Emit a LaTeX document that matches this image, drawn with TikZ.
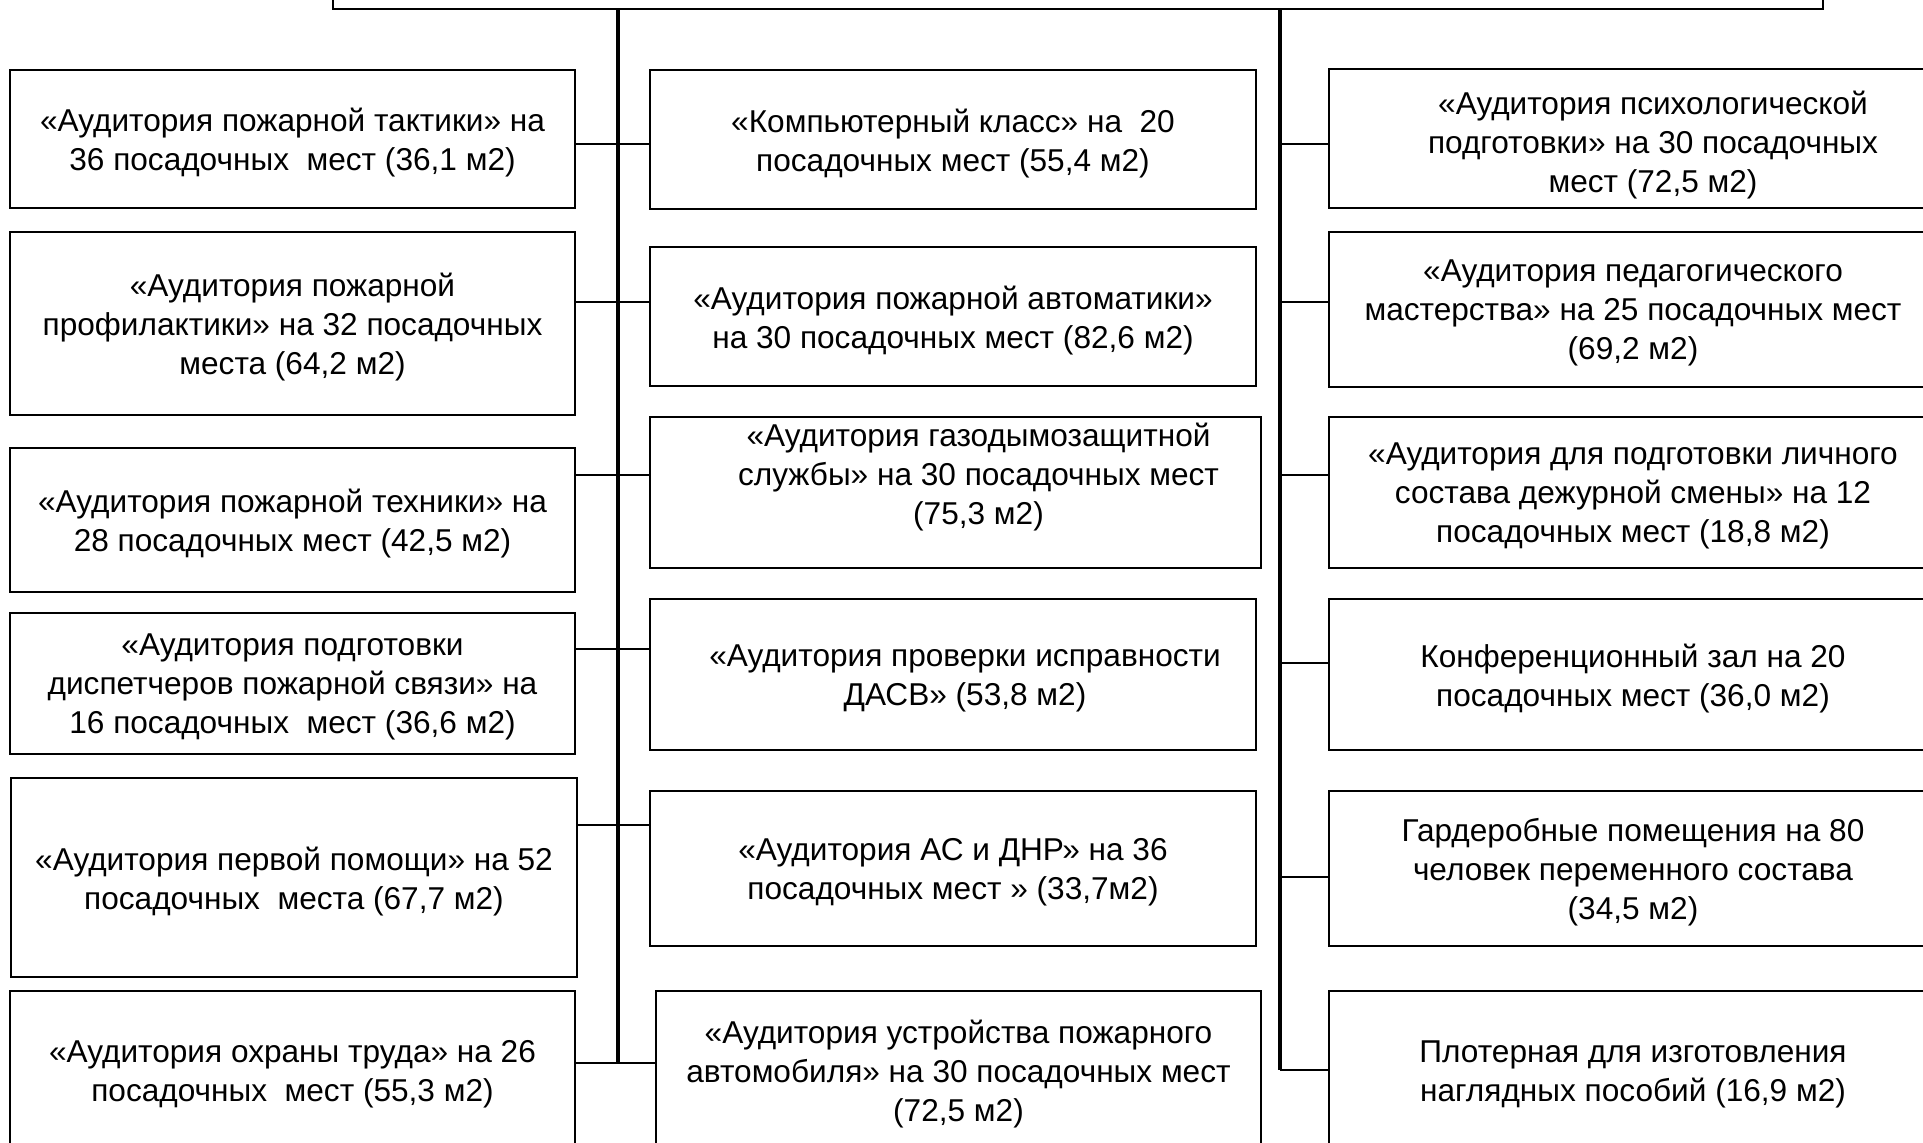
\documentclass[tikz,border=0pt]{standalone}
\usepackage{fontspec}
\setmainfont{Liberation Sans}
\usetikzlibrary{shadows}
\tikzset{
  box/.style={draw=black, line width=1.1pt, fill=white, inner sep=0pt,
    drop shadow={shadow xshift=0.7pt, shadow yshift=-0.7pt, fill=black!45, opacity=1}},
  txt/.style={font=\fontsize{15.8}{19.5}\selectfont, align=center, inner sep=0pt, yshift=-1.8pt},
  conn/.style={line width=1.2pt},
  trunk/.style={line width=1.7pt},
}
\newcommand\bx[8]{%
  \pgfmathsetmacro\bxw{(#4-#2)*0.5}%
  \pgfmathsetmacro\bxh{(#5-#3)*0.5}%
  \node[box, minimum width=\bxw pt, minimum height=\bxh pt,
    label={[txt,xshift=#6,yshift=#7]center:{#8}}] (#1) at ({(#2+#4)/2},{(#3+#5)/2}) {};%
}
\begin{document}
\begin{tikzpicture}[x=0.5pt,y=-0.5pt]
\useasboundingbox (0,0) rectangle (1923,1142);
\clip (0,0) rectangle (1923,1142);
\fill[white] (0,0) rectangle (1923,1142);

\bx{top}{333}{-40}{1823}{9}{0pt}{0pt}{}

\bx{L1}{10}{70}{575}{208}{0pt}{0pt}{«Аудитория пожарной тактики» на\\36 посадочных~ мест (36,1 м2)}
\bx{L2}{10}{232}{575}{415}{0pt}{0pt}{«Аудитория пожарной\\профилактики» на 32 посадочных\\места (64,2 м2)}
\bx{L3}{10}{448}{575}{592}{0pt}{0pt}{«Аудитория пожарной техники» на\\28 посадочных мест (42,5 м2)}
\bx{L4}{10}{613}{575}{754}{0pt}{0pt}{«Аудитория подготовки\\диспетчеров пожарной связи» на\\16 посадочных~ мест (36,6 м2)}
\bx{L5}{11}{778}{577}{977}{0pt}{0pt}{«Аудитория первой помощи» на 52\\посадочных~ места (67,7 м2)}
\bx{L6}{10}{991}{575}{1150}{0pt}{0pt}{«Аудитория охраны труда» на 26\\посадочных~ мест (55,3 м2)}

\bx{M1}{650}{70}{1256}{209}{0pt}{0pt}{«Компьютерный класс» на~ 20\\посадочных мест (55,4 м2)}
\bx{M2}{650}{247}{1256}{386}{0pt}{0pt}{«Аудитория пожарной автоматики»\\на 30 посадочных мест (82,6 м2)}
\bx{M3}{650}{417}{1261}{568}{11.5pt}{9.3pt}{«Аудитория газодымозащитной\\службы» на 30 посадочных мест\\(75,3 м2)}
\bx{M4}{650}{599}{1256}{750}{6pt}{0pt}{«Аудитория проверки исправности\\ДАСВ» (53,8 м2)}
\bx{M5}{650}{791}{1256}{946}{0pt}{0pt}{«Аудитория АС и ДНР» на 36\\посадочных мест » (33,7м2)}
\bx{M6}{656}{991}{1261}{1150}{0pt}{0pt}{«Аудитория устройства пожарного\\автомобиля» на 30 посадочных мест\\(72,5 м2)}

\bx{R1}{1329}{69}{1937}{208}{10pt}{-1.6pt}{«Аудитория психологической\\подготовки» на 30 посадочных\\мест (72,5 м2)}
\bx{R2}{1329}{232}{1937}{387}{0pt}{0pt}{«Аудитория педагогического\\мастерства» на 25 посадочных мест\\(69,2 м2)}
\bx{R3}{1329}{417}{1937}{568}{0pt}{0pt}{«Аудитория для подготовки личного\\состава дежурной смены» на 12\\посадочных мест (18,8 м2)}
\bx{R4}{1329}{599}{1937}{750}{0pt}{0pt}{Конференционный зал на 20\\посадочных мест (36,0 м2)}
\bx{R5}{1329}{791}{1937}{946}{0pt}{0pt}{Гардеробные помещения на 80\\человек переменного состава\\(34,5 м2)}
\bx{R6}{1329}{991}{1937}{1150}{0pt}{0pt}{Плотерная для изготовления\\наглядных пособий (16,9 м2)}

\coordinate (tl) at (618,1063);
\coordinate (tr) at (1280,1070);
\draw[trunk] (top.south -| tl) -- (tl);
\draw[trunk] (top.south -| tr) -- (tr);

\foreach \i/\y in {1/144,2/302,3/475,4/649,5/825,6/1063}{
  \coordinate (hl\i) at (618,\y);
  \draw[conn] (hl\i -| L\i.east) -- (hl\i -| M\i.west);
}
\foreach \i/\y in {1/144,2/302,3/475,4/663,5/877,6/1070}{
  \coordinate (hr\i) at (1280,\y);
  \draw[conn] (hr\i) -- (hr\i -| R\i.west);
}
\end{tikzpicture}
\end{document}
